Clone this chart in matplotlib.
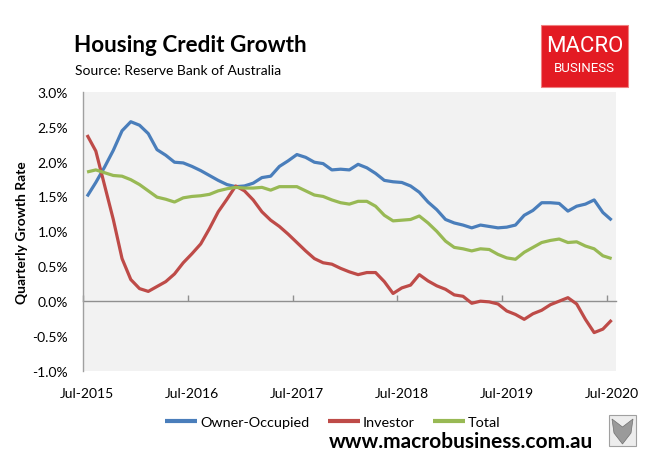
import matplotlib
matplotlib.use("Agg")
import matplotlib.pyplot as plt
from matplotlib.patches import Rectangle, Polygon
import numpy as np
import pandas as pd

# ---- data (monthly, Jul-2015 .. Jul-2020), quarterly growth rate in % ----
months = pd.date_range("2015-07-01", periods=61, freq="MS")
owner_occupied = [1.50, 1.70, 1.92, 2.16, 2.44, 2.57, 2.52, 2.40, 2.17, 2.09, 1.99, 1.98, 1.93,
                  1.87, 1.80, 1.73, 1.67, 1.64, 1.65, 1.69, 1.77, 1.79, 1.93, 2.01, 2.10,
                  2.06, 1.99, 1.97, 1.88, 1.89, 1.88, 1.96, 1.91, 1.83, 1.73, 1.71, 1.70,
                  1.65, 1.56, 1.42, 1.31, 1.17, 1.12, 1.09, 1.05, 1.09, 1.07, 1.05, 1.06,
                  1.09, 1.23, 1.30, 1.41, 1.41, 1.40, 1.29, 1.36, 1.39, 1.45, 1.27, 1.16]
investor = [2.38, 2.15, 1.66, 1.17, 0.61, 0.31, 0.18, 0.14, 0.21, 0.28, 0.39, 0.55, 0.68,
            0.82, 1.04, 1.28, 1.46, 1.65, 1.58, 1.45, 1.28, 1.16, 1.07, 0.96, 0.84,
            0.72, 0.61, 0.55, 0.53, 0.47, 0.42, 0.38, 0.41, 0.41, 0.28, 0.11, 0.19,
            0.23, 0.38, 0.29, 0.22, 0.17, 0.09, 0.07, -0.03, 0.00, -0.01, -0.04, -0.14,
            -0.19, -0.26, -0.18, -0.13, -0.05, 0.00, 0.05, -0.04, -0.26, -0.45, -0.40, -0.27]
total = [1.85, 1.88, 1.84, 1.80, 1.79, 1.74, 1.67, 1.58, 1.49, 1.46, 1.42, 1.48, 1.50,
         1.51, 1.53, 1.58, 1.61, 1.63, 1.62, 1.62, 1.63, 1.59, 1.64, 1.64, 1.64,
         1.58, 1.52, 1.50, 1.45, 1.41, 1.39, 1.43, 1.43, 1.36, 1.23, 1.15, 1.16,
         1.17, 1.22, 1.12, 1.00, 0.86, 0.77, 0.75, 0.72, 0.75, 0.74, 0.67, 0.62,
         0.60, 0.70, 0.77, 0.84, 0.87, 0.89, 0.84, 0.85, 0.79, 0.75, 0.65, 0.61]
series_names = ["Owner-Occupied", "Investor", "Total"]
y_ticks = [-1.0, -0.5, 0.0, 0.5, 1.0, 1.5, 2.0, 2.5, 3.0]

colors = ["#4A7EBB", "#BE4B48", "#98B954"]
FONT = ["Lato", "DejaVu Sans"]
plt.rcParams["font.family"] = FONT

W, H = 660, 477
fig = plt.figure(figsize=(W / 100, H / 100), dpi=100)
fig.patch.set_facecolor("white")

L, R, T, B = 82.7, 616, 92.7, 372
ax = fig.add_axes([L / W, 1 - B / H, (R - L) / W, (B - T) / H])
ax.set_facecolor("#F2F2F2")

# category axis: points centred between tick marks
n = len(months)
x = np.arange(n) + 0.5
for vals, c, name in zip([owner_occupied, investor, total], colors, series_names):
    ax.plot(x, vals, color=c, lw=2.3, label=name, solid_joinstyle="round",
            solid_capstyle="butt", zorder=3)

ax.set_xlim(0, n)
ax.set_ylim(-1.0, 3.0)
ax.set_yticks(y_ticks)
ax.set_yticklabels([f"{v:.1f}%" for v in y_ticks])
ax.tick_params(axis="y", length=0, pad=10.5, labelsize=10, colors="black")

# x labels (every July) centred on category
jul_idx = [i for i, d in enumerate(months) if d.month == 7]
ax.set_xticks([i + 0.5 for i in jul_idx])
ax.set_xticklabels([months[i].strftime("%b-%Y") for i in jul_idx])
ax.tick_params(axis="x", length=0, pad=11.5, labelsize=10, colors="black")

for s in ["top", "right", "bottom"]:
    ax.spines[s].set_visible(False)
ax.spines["left"].set_color("#A0A0A0")
ax.spines["left"].set_linewidth(1.0)

# horizontal axis line at zero with inward tick marks at category boundaries
sec = ax.secondary_xaxis(0.25)
sec.set_xticks(jul_idx)
sec.set_xticklabels([])
sec.tick_params(axis="x", direction="in", length=4.5, width=1.0, color="#909090")
sec.spines["bottom"].set_color("#909090")
sec.spines["bottom"].set_linewidth(1.0)

# y label
fig.text(22 / W, 1 - (T + B) / 2 / H, "Quarterly Growth Rate", rotation=90,
         fontsize=10, fontweight="bold", ha="center", va="center")

# title / subtitle
fig.text(74 / W, 1 - 52 / H, "Housing Credit Growth", fontsize=16.2, fontweight="bold",
         ha="left", va="baseline")
fig.text(75 / W, 1 - 74.7 / H, "Source: Reserve Bank of Australia", fontsize=10,
         ha="left", va="baseline")

# logo box
lx0, lx1, ly0, ly1 = 541, 628, 26, 88
fig.patches.append(Rectangle((lx0 / W, 1 - ly1 / H), (lx1 - lx0) / W, (ly1 - ly0) / H,
                             transform=fig.transFigure, facecolor="#E31B23",
                             edgecolor="#F08080", lw=0.8, zorder=5))
fig.text((lx0 + lx1) / 2 / W, 1 - 47 / H, "MACRO", color="white", fontsize=16,
         family=["Liberation Sans Narrow", "Roboto", "DejaVu Sans"],
         ha="center", va="center", zorder=6)
fig.text((lx0 + lx1) / 2 / W, 1 - 69 / H, "BUSINESS", color="white", fontsize=9.5,
         family=["Liberation Sans Narrow", "Roboto", "DejaVu Sans"],
         ha="center", va="center", zorder=6)

# legend
leg = fig.legend(loc="center", bbox_to_anchor=(333 / W, 1 - 422.5 / H), ncol=3,
                 frameon=False, fontsize=10.4, handlelength=2.2, handletextpad=0.2,
                 columnspacing=1.3, borderaxespad=0)
for h in leg.get_lines():
    h.set_linewidth(3)

# website + wolf picture placeholder
fig.text(593 / W, 1 - 448.3 / H, "www.macrobusiness.com.au", fontsize=15,
         fontweight="bold", ha="right", va="baseline")
fig.patches.append(Rectangle((609 / W, 1 - 447 / H), 27 / W, 31 / H,
                             transform=fig.transFigure, facecolor="#EDEDED",
                             edgecolor="#A0A0A0", lw=0.8, zorder=5))
fig.patches.append(Polygon([(612 / W, 1 - 420 / H), (622.5 / W, 1 - 428 / H),
                            (633 / W, 1 - 420 / H), (631 / W, 1 - 434 / H),
                            (622.5 / W, 1 - 445 / H), (614 / W, 1 - 434 / H)],
                           closed=True, transform=fig.transFigure,
                           facecolor="#9A9A9A", edgecolor="#707070", lw=0.5, zorder=6))

fig.savefig("out.png", dpi=100, facecolor="white")
